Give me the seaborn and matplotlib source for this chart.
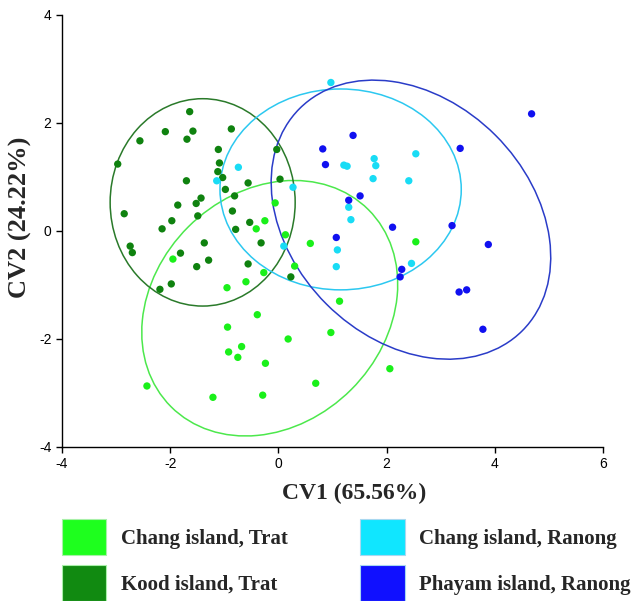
import numpy as np
import pandas as pd
import seaborn as sns
import matplotlib.pyplot as plt
from matplotlib.patches import Ellipse, Patch

# group names (legend order)
groups = ['Chang island, Trat', 'Kood island, Trat',
          'Chang island, Ranong', 'Phayam island, Ranong']

# canonical scores
chang_trat_x = [-0.06, -0.25, -0.41, 0.13, 0.59, -1.95, 0.30, -0.27, -0.60,
                -0.95, -0.39, 1.13, 2.54, -0.94, 0.97, 0.18, -0.68, -0.92,
                -0.75, -0.24, -2.43, 0.69, -1.21, -0.29, 2.06]
chang_trat_y = [0.52, 0.19, 0.04, -0.07, -0.23, -0.52, -0.65, -0.77, -0.94,
                -1.05, -1.55, -1.30, -0.20, -1.78, -1.88, -2.00, -2.14, -2.24,
                -2.34, -2.45, -2.87, -2.82, -3.08, -3.04, -2.55]

kood_x = [-1.64, -2.09, -1.58, -2.56, -1.69, -0.87, -1.11, -0.03, -2.97,
          -1.09, -1.12, -1.03, -1.70, -0.56, 0.03, -0.98, -0.81, -1.43,
          -1.52, -1.86, -2.85, -1.49, -0.85, -1.97, -2.15, -0.53, -0.79,
          -2.74, -2.70, -1.37, -0.32, -1.81, -1.29, -1.51, -0.56, 0.23,
          -1.98, -2.19]
kood_y = [2.21, 1.84, 1.85, 1.67, 1.70, 1.89, 1.51, 1.51, 1.24, 1.26, 1.10,
          0.99, 0.93, 0.89, 0.96, 0.77, 0.65, 0.61, 0.51, 0.48, 0.32, 0.28,
          0.37, 0.19, 0.04, 0.16, 0.03, -0.28, -0.40, -0.22, -0.22, -0.41,
          -0.54, -0.66, -0.61, -0.85, -0.98, -1.08]

chang_ranong_x = [-0.74, -1.14, 0.27, 0.10, 0.97, 1.21, 1.27, 1.77, 1.80,
                  2.54, 1.75, 2.41, 1.30, 1.34, 1.09, 1.07, 2.46]
chang_ranong_y = [1.18, 0.93, 0.81, -0.28, 2.75, 1.22, 1.20, 1.34, 1.21,
                  1.43, 0.97, 0.93, 0.44, 0.21, -0.35, -0.66, -0.60]

phayam_x = [1.38, 0.82, 0.87, 1.51, 1.30, 2.11, 1.07, 2.28, 2.25, 4.68,
            3.36, 3.21, 3.88, 3.34, 3.48, 3.78]
phayam_y = [1.77, 1.52, 1.23, 0.65, 0.57, 0.07, -0.12, -0.71, -0.85, 2.17,
            1.53, 0.10, -0.25, -1.13, -1.09, -1.82]

# confidence ellipses: centre, full width, full height, angle (deg)
ell_cx = [-0.16, -1.40, 1.15, 2.45]
ell_cy = [-1.43, 0.53, 0.77, 0.21]
ell_w = [5.16, 3.42, 4.46, 5.82]
ell_h = [4.26, 3.84, 3.72, 4.42]
ell_angle = [45, 0, 0, -45]

point_colors = ['#1af01a', '#0f820f', '#19dcf5', '#1010f0']
line_colors = ['#4ce84c', '#2a7a2a', '#2cc8f0', '#2a3cc8']
patch_colors = ['#1eff1e', '#118a11', '#10e6ff', '#1010ff']

xs = [chang_trat_x, kood_x, chang_ranong_x, phayam_x]
ys = [chang_trat_y, kood_y, chang_ranong_y, phayam_y]
df = pd.concat([pd.DataFrame({'CV1': x, 'CV2': y, 'group': g})
                for x, y, g in zip(xs, ys, groups)], ignore_index=True)

sns.set_style('ticks')
plt.rcParams['font.family'] = ['Liberation Sans Narrow', 'Liberation Sans', 'DejaVu Sans']
plt.rcParams['axes.unicode_minus'] = False

fig = plt.figure(figsize=(6.34, 6.01), dpi=100)
ax = fig.add_axes([62 / 634, 1 - 447 / 601, 541 / 634, 432 / 601])

for i in range(len(groups)):
    ax.add_patch(Ellipse((ell_cx[i], ell_cy[i]), ell_w[i], ell_h[i],
                         angle=ell_angle[i], fill=False,
                         edgecolor=line_colors[i], linewidth=1.1, zorder=1))

sns.scatterplot(data=df, x='CV1', y='CV2', hue='group', hue_order=groups,
                palette=point_colors, s=28, linewidth=0, legend=False,
                ax=ax, zorder=2)

ax.set_xlim(-4, 6)
ax.set_ylim(-4, 4)
ax.set_xticks([-4, -2, 0, 2, 4, 6])
ax.set_yticks([-4, -2, 0, 2, 4])
ax.tick_params(direction='out', length=4, width=1, labelsize=10, colors='black')
sns.despine(ax=ax)
for sp in ['left', 'bottom']:
    ax.spines[sp].set_color('black')
    ax.spines[sp].set_linewidth(1)

serif = ['Liberation Serif', 'DejaVu Serif']
ax.set_xlabel('CV1 (65.56%)', fontsize=17, fontweight='bold', family=serif)
ax.set_ylabel('CV2 (24.22%)', fontsize=19, fontweight='bold', family=serif)
ax.xaxis.set_label_coords(0.54, -0.083)
ax.yaxis.set_label_coords(-0.055, 0.532)

handles = [Patch(facecolor=c, edgecolor='#a8f0a8' if i < 2 else '#a8d8f0', linewidth=0.8)
           for i, c in enumerate(patch_colors)]
fig.legend(handles, groups, loc='upper left', bbox_to_anchor=(0.084, 0.150),
           ncol=2, frameon=False, handlelength=2.15, handleheight=2.3,
           handletextpad=0.7, columnspacing=3.45, labelspacing=0.47,
           prop={'family': serif, 'weight': 'bold', 'size': 15}, borderaxespad=0)

fig.savefig('out.png', dpi=100)
